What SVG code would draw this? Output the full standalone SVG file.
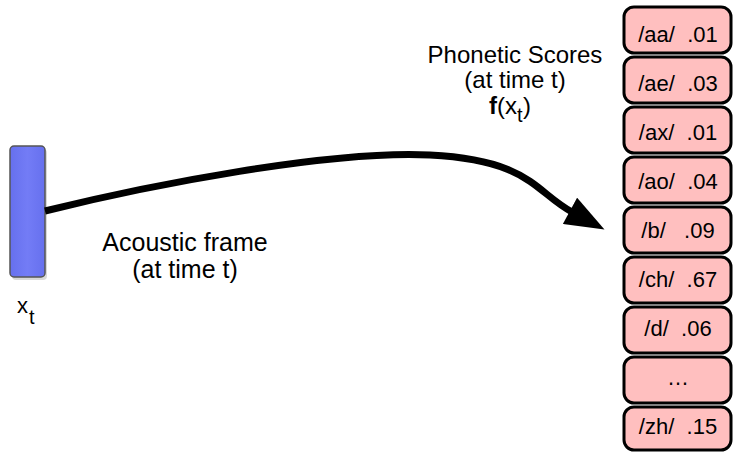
<svg xmlns="http://www.w3.org/2000/svg" width="735" height="453" viewBox="0 0 735 453">
<defs>
<style>
text{font-family:"Liberation Sans",Arial,sans-serif;fill:#000;}
.lbl{font-size:24px;text-anchor:middle;}
.sc rect{fill:#ffbfbf;stroke:#000;stroke-width:3;}
.sc text{font-size:22px;text-anchor:middle;white-space:pre;}
</style>
<linearGradient id="bg" x1="0" y1="0" x2="1" y2="0">
<stop offset="0" stop-color="#6670ee"/><stop offset="0.5" stop-color="#737cf6"/><stop offset="1" stop-color="#6670ee"/>
</linearGradient>
<marker id="ah" markerUnits="userSpaceOnUse" markerWidth="40" markerHeight="30" viewBox="0 0 34 26" refX="2" refY="13" orient="auto">
<path d="M0,0 L34,13 L0,26 Z" fill="#000"/>
</marker>
</defs>
<rect width="735" height="453" fill="#fff"/>
<g id="frame">
<rect x="12" y="149" width="35" height="131" rx="4" fill="#000" opacity="0.15"/>
<rect x="10" y="146" width="35" height="131" rx="4" fill="url(#bg)" stroke="#555" stroke-width="1.5"/>
<text x="17" y="313" style="font-size:22px">x</text>
<text x="29" y="324" style="font-size:20px">t</text>
</g>
<g id="connectors">
<path d="M45,211 C150,185 330,150 430,155 S535,192 572,212" fill="none" stroke="#000" stroke-width="7" marker-end="url(#ah)"/>
</g>
<g id="labels">
<text class="lbl" x="515" y="63">Phonetic Scores</text>
<text class="lbl" x="515" y="88">(at time t)</text>
<text x="489" y="114" style="font-size:24px"><tspan font-weight="bold">f</tspan>(x</text>
<text x="517" y="122" style="font-size:20px">t</text>
<text x="523" y="114" style="font-size:24px">)</text>
<text class="lbl" x="185" y="251" style="font-size:25px">Acoustic frame</text>
<text class="lbl" x="185" y="278" style="font-size:25px">(at time t)</text>
</g>
<g id="scores" class="sc">
<g id="s-aa"><rect x="624" y="7" width="107" height="46" rx="10"/><text x="678" y="42">/aa/  .01</text></g>
<g id="s-ae"><rect x="624" y="57" width="107" height="46" rx="10"/><text x="678" y="91">/ae/  .03</text></g>
<g id="s-ax"><rect x="624" y="107" width="107" height="46" rx="10"/><text x="678" y="140">/ax/  .01</text></g>
<g id="s-ao"><rect x="624" y="157" width="107" height="46" rx="10"/><text x="678" y="189">/ao/  .04</text></g>
<g id="s-b"><rect x="624" y="207" width="107" height="46" rx="10"/><text x="678" y="238">/b/   .09</text></g>
<g id="s-ch"><rect x="624" y="257" width="107" height="46" rx="10"/><text x="678" y="287">/ch/  .67</text></g>
<g id="s-d"><rect x="624" y="307" width="107" height="46" rx="10"/><text x="678" y="336">/d/  .06</text></g>
<g id="s-dots"><rect x="624" y="357" width="107" height="46" rx="10"/><text x="678" y="385">…</text></g>
<g id="s-zh"><rect x="624" y="407" width="107" height="43" rx="10"/><text x="678" y="434">/zh/  .15</text></g>
</g>
</svg>
